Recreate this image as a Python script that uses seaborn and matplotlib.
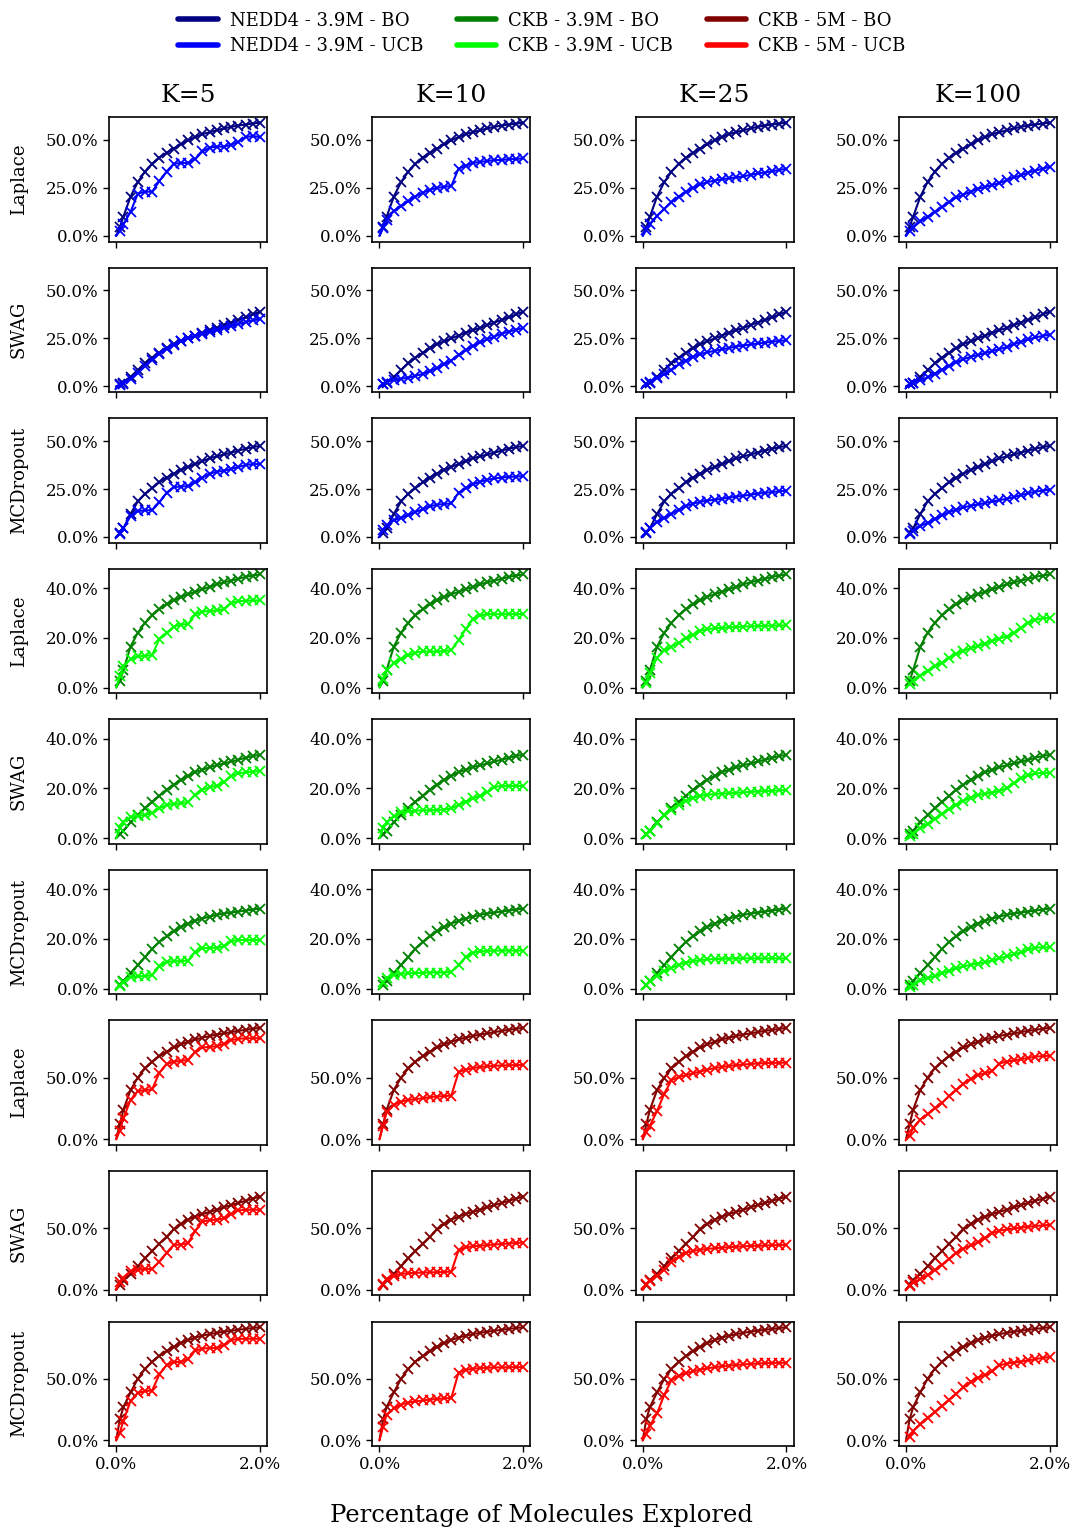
import matplotlib
matplotlib.use("Agg")
import matplotlib.pyplot as plt
import seaborn as sns
from matplotlib.ticker import FuncFormatter
from matplotlib.lines import Line2D

# ---------------- data (percent of molecules explored / percent found) -------------
x_explored = [0.0, 0.05, 0.1, 0.2, 0.3, 0.4, 0.5, 0.6, 0.7, 0.8, 0.9, 1.0,
              1.1, 1.2, 1.3, 1.4, 1.5, 1.6, 1.7, 1.8, 1.9, 2.0]
k_values = [5, 10, 25, 100]
methods = ["Laplace", "SWAG", "MCDropout"]
targets = ["NEDD4 - 3.9M", "CKB - 3.9M", "CKB - 5M"]

# BO (same in every K column)
bo_nedd4_laplace = [0, 4.5, 10, 20.5, 28, 33.5, 37.5, 40.8, 43.3, 45.5, 47.7, 49.8, 51.5, 53, 54, 55, 56, 56.8, 57.5, 58, 58.5, 59]
bo_nedd4_swag = [0, 1, 2, 5, 8.5, 12, 15, 17.5, 20, 22, 23.5, 25, 26.5, 28, 29.3, 30.5, 32, 33.3, 34.7, 36, 37.5, 39]
bo_nedd4_mcd = [0, 2, 4.5, 12, 18.5, 22.5, 25.5, 28.5, 31, 33, 35, 36.5, 38, 39.5, 41, 42, 43, 44, 45, 46, 46.8, 47.5]
bo_ckb39_laplace = [0, 2.5, 7, 16.5, 22, 26, 29, 31.5, 33.5, 35, 36.5, 37.5, 38.5, 39.5, 40.5, 41.5, 42.3, 43, 43.7, 44.5, 45, 45.5]
bo_ckb39_swag = [0, 1.5, 3, 6.3, 9.3, 12, 14.6, 17, 19.5, 21.5, 23.5, 25, 26.5, 27.5, 28.5, 29.3, 30, 30.8, 31.5, 32.3, 33, 33.5]
bo_ckb39_mcd = [0, 1.5, 3.1, 6.3, 9.5, 12.6, 16, 18.8, 21, 23, 24.8, 26.2, 27.3, 28.2, 29, 29.7, 30.2, 30.6, 31, 31.4, 31.8, 32.2]
bo_ckb5_laplace = [0, 12, 24, 40, 50, 57.5, 63, 67.5, 71, 74.5, 77, 79.2, 81, 82.5, 83.8, 85, 86, 87, 88, 88.8, 89.6, 90.5]
bo_ckb5_swag = [0, 4, 8, 13, 19, 25.5, 31.5, 37.5, 43, 49, 53.5, 57, 59.5, 61.5, 63.3, 65, 67, 68.8, 70.5, 72.3, 74, 75.7]
bo_ckb5_mcd = [0, 17, 27, 39, 50, 58, 64, 68.5, 72.5, 76, 79, 81.5, 83.5, 85, 86.3, 87.3, 88.2, 89, 89.8, 90.5, 91.2, 91.9]

# UCB, one list per K (5, 10, 25, 100)
ucb_nedd4_laplace = [
    [0, 2.5, 6, 12.5, 22, 23, 23, 28.5, 33.5, 37.5, 38, 38, 40, 44, 46, 46.5, 46.5, 47.5, 49, 51.5, 52, 51.5],
    [0, 4, 8.5, 13, 15.5, 18, 20.5, 22.5, 24, 25, 25.5, 26, 35, 36.5, 38, 38.5, 39, 39.5, 39.5, 40, 40, 40.5],
    [0, 3, 6, 10.5, 14, 17.5, 20.5, 23, 25, 26.8, 28, 28.8, 29.5, 30, 30.5, 31, 31.8, 32.5, 33, 33.7, 34.3, 35],
    [0, 2.5, 4.5, 7.5, 10, 12.5, 15, 17.5, 20, 21.5, 23, 24.5, 25.5, 26.5, 27.5, 29, 30.5, 31.5, 33, 34, 35, 36],
]
ucb_nedd4_swag = [
    [0, 0.5, 1.5, 4, 7, 10.5, 14, 17, 19.5, 21.5, 23.5, 25, 26.5, 27.5, 28.5, 29.5, 30.5, 31.5, 32.5, 33.5, 34.5, 35],
    [0, 1.5, 2.5, 3.5, 4, 4.5, 5.5, 6.5, 8, 9.5, 11.5, 13.5, 16.5, 19, 21, 23, 24.5, 26, 27.5, 28.5, 29.5, 30.5],
    [0, 1.2, 2.3, 4.5, 6.3, 8.5, 11.5, 13.5, 15.5, 16.8, 17.8, 18.5, 19.3, 20, 20.8, 21.3, 21.9, 22.4, 22.8, 23.3, 23.7, 24],
    [0, 1, 1.8, 3.2, 4.7, 6.7, 8.7, 10.8, 12.6, 14.2, 15.4, 16.4, 17.4, 18.4, 19.4, 20.5, 22, 23.3, 24.5, 25.5, 26.3, 27],
]
ucb_nedd4_mcd = [
    [0, 1.5, 4.5, 11, 13.5, 13.9, 14, 18, 23, 26, 26.3, 26.5, 28.5, 31, 33, 34, 34.5, 35.5, 36.5, 37.5, 38, 38],
    [0, 3.5, 6, 8.7, 10, 11.5, 13, 14.5, 16, 16.8, 17.2, 17.5, 23, 25.5, 27.5, 28.8, 29.8, 30.5, 31, 31.3, 31.5, 31.7],
    [0, 2.8, 4.7, 7.8, 10, 12, 14.2, 16, 17.4, 18.3, 19, 19.4, 19.9, 20.5, 21, 21.5, 22, 22.6, 23, 23.4, 23.8, 24.2],
    [0, 1.3, 3, 5.8, 7.4, 9.3, 11.3, 12.9, 14.3, 15.4, 16.3, 17, 17.7, 18.5, 19.2, 19.9, 20.8, 21.8, 22.8, 23.6, 24.2, 24.6],
]
ucb_ckb39_laplace = [
    [0, 4.5, 8.5, 11.5, 12.5, 12.8, 13, 19.5, 22, 24.5, 25.3, 25.5, 29.5, 30.5, 30.8, 31, 31.5, 34, 34.7, 34.9, 35, 35],
    [0, 3.5, 7, 10, 11.5, 13, 14, 14.5, 14.5, 14.5, 14.7, 15, 19, 23.5, 27.5, 29, 29.5, 29.5, 29.5, 29.5, 29.5, 29.5],
    [0, 2, 6, 12, 15, 16.5, 18, 19.8, 21.3, 22.8, 23.5, 23.8, 24, 24.2, 24.3, 24.5, 24.6, 24.7, 24.8, 24.9, 25, 25],
    [0, 1.5, 2.8, 4.8, 6.8, 8.5, 10, 12, 13.6, 14.8, 15.8, 16.7, 17.7, 18.8, 19.7, 20.5, 22, 24, 26, 27.3, 27.8, 28],
]
ucb_ckb39_swag = [
    [0, 4, 6.5, 8.5, 9, 9.3, 10, 12, 13.3, 13.7, 14, 14.5, 17.5, 19.5, 20.5, 21, 22.5, 25, 26, 26.5, 26.7, 27],
    [0, 4, 6.5, 8.7, 10.3, 10.8, 11, 11.2, 11.2, 11.3, 11.5, 12, 13.3, 14.7, 16, 17, 18.5, 20.5, 21, 21, 21, 21],
    [0, 1.5, 2.8, 6, 9.3, 11.5, 13.3, 15, 16.2, 17, 17.4, 17.7, 17.9, 18, 18.2, 18.4, 18.6, 18.7, 18.9, 19, 19.2, 19.3],
    [0, 0.8, 1.8, 4, 5.8, 7.8, 9.8, 11.6, 13.5, 15, 16.3, 17.3, 17.8, 18.3, 19, 20, 22, 24, 25.2, 26, 26.2, 26.3],
]
ucb_ckb39_mcd = [
    [0, 1.2, 2.8, 4.7, 5, 5.1, 5.5, 9, 10.8, 11, 11.1, 11.3, 14.8, 16.2, 16.4, 16.5, 17, 19.2, 19.5, 19.6, 19.6, 19.6],
    [0, 2.5, 4.5, 5.6, 6, 6.2, 6.3, 6.4, 6.5, 6.5, 6.5, 6.8, 9.5, 12.8, 14.5, 15, 15.2, 15.3, 15.3, 15.3, 15.3, 15.3],
    [0, 1.5, 3, 5.3, 7, 8.4, 9.6, 10.5, 11.1, 11.5, 11.8, 11.9, 12, 12.1, 12.1, 12.2, 12.2, 12.2, 12.2, 12.2, 12.2, 12.2],
    [0, 0.8, 1.6, 3.3, 4.3, 5.1, 6.2, 7.3, 8.2, 9, 9.6, 10.1, 10.6, 11.4, 12.2, 13, 13.8, 14.6, 15.8, 16.5, 16.6, 16.6],
]
ucb_ckb5_laplace = [
    [0, 7, 17, 32, 39, 40, 40.5, 54, 61, 63, 63.5, 64.5, 71, 74.5, 75, 75.5, 77.5, 80.5, 81.5, 82, 82, 82],
    [0, 11, 22, 28, 30.5, 31.9, 32.6, 33.3, 34.2, 34.7, 35, 35.5, 54.5, 56.5, 57.8, 58.7, 59.2, 59.6, 59.9, 60.1, 60.2, 60.3],
    [0, 6, 11, 23, 37, 48, 50.5, 52, 53.5, 55, 56.5, 57.8, 58.7, 59.5, 60.2, 60.7, 61.1, 61.5, 61.8, 62, 62.1, 62.2],
    [0, 3, 9, 16, 20.5, 25, 29.5, 35, 40, 45, 49, 52, 53.5, 55.5, 61.5, 63, 64, 65, 66, 67, 67.5, 67.8],
]
ucb_ckb5_swag = [
    [0, 6, 10, 15, 16.5, 16.8, 17, 23, 30, 36.5, 36.7, 38, 48, 55.5, 56.5, 57, 58, 61.5, 64.5, 65, 65, 65],
    [0, 5, 9, 11.5, 13, 13.5, 13.8, 14, 14.2, 14.3, 14.5, 14.8, 32, 34.5, 35.3, 35.8, 36.3, 36.8, 37.2, 37.6, 38, 38.4],
    [0, 4.5, 7.5, 11.5, 16.5, 22.5, 27, 30, 31.6, 32.5, 33.2, 33.8, 34.2, 34.6, 35, 35.3, 35.6, 35.8, 36, 36.2, 36.4, 36.5],
    [0, 3.5, 6, 8.5, 12, 16, 20.5, 25, 30, 33.5, 36, 38.5, 42, 46, 48, 49, 49.8, 50.5, 51.2, 51.8, 52.3, 52.7],
]
ucb_ckb5_mcd = [
    [0, 6, 16, 32, 38.5, 40, 40.5, 53.5, 61, 63.5, 63.8, 66, 73, 74.5, 75, 75, 77.5, 81.5, 82.4, 82.5, 82.5, 82.5],
    [0, 11, 21, 26, 29, 30.7, 31.7, 32.4, 33.1, 33.6, 34.1, 34.5, 55, 57.2, 58.2, 58.7, 59, 59.2, 59.3, 59.4, 59.5, 59.5],
    [0, 5.5, 12, 22, 37, 49, 52.5, 54.5, 56, 57.5, 58.6, 59.4, 60.2, 60.7, 61.2, 61.7, 62.1, 62.5, 62.7, 62.9, 63, 63],
    [0, 3, 7.5, 13, 18.5, 23, 28, 33, 38, 43, 47.5, 51, 53, 56, 61, 62.3, 63.2, 64, 65, 66, 67, 67.6],
]

row_bo = [bo_nedd4_laplace, bo_nedd4_swag, bo_nedd4_mcd,
          bo_ckb39_laplace, bo_ckb39_swag, bo_ckb39_mcd,
          bo_ckb5_laplace, bo_ckb5_swag, bo_ckb5_mcd]
row_ucb = [ucb_nedd4_laplace, ucb_nedd4_swag, ucb_nedd4_mcd,
           ucb_ckb39_laplace, ucb_ckb39_swag, ucb_ckb39_mcd,
           ucb_ckb5_laplace, ucb_ckb5_swag, ucb_ckb5_mcd]
y_ticks_by_target = [[0, 25, 50], [0, 20, 40], [0, 50]]
bo_colors = ["#000080", "#008000", "#800000"]
ucb_colors = ["#0000FF", "#00FF00", "#FF0000"]

# ---------------- plotting ----------------
sns.set_theme(style="ticks")
plt.rcParams["font.family"] = ["DejaVu Serif"]
plt.rcParams["axes.edgecolor"] = "black"
plt.rcParams["xtick.color"] = "black"
plt.rcParams["ytick.color"] = "black"
plt.rcParams["text.color"] = "black"
plt.rcParams["axes.labelcolor"] = "black"

fig, axes = plt.subplots(9, 4, figsize=(10.73, 15.27), dpi=100)
fig.subplots_adjust(left=0.1016, right=0.985, top=0.9234, bottom=0.053,
                    wspace=0.665, hspace=0.209)

pct_fmt = FuncFormatter(lambda v, p: f"{v:.1f}%")
mark_idx = list(range(1, len(x_explored)))

for r in range(9):
    t = r // 3
    # shared y-range within each target group (3 rows)
    group_max = max(max(row_bo[g]) for g in range(3 * t, 3 * t + 3))
    group_max = max(group_max, max(max(v) for g in range(3 * t, 3 * t + 3) for v in row_ucb[g]))
    for c in range(4):
        ax = axes[r, c]
        for vals, col in ((row_bo[r], bo_colors[t]), (row_ucb[r][c], ucb_colors[t])):
            sns.lineplot(x=x_explored, y=vals, ax=ax, color=col,
                         linewidth=1.5, marker="x", markersize=7,
                         markeredgewidth=1.3, markeredgecolor=col,
                         markerfacecolor=col, markevery=mark_idx)
        ax.set_ylim(-0.05 * group_max, 1.05 * group_max)
        ax.set_xlim(-0.1, 2.1)
        ax.set_xticks([0.0, 2.0])
        ax.set_yticks(y_ticks_by_target[t])
        ax.xaxis.set_major_formatter(pct_fmt)
        ax.yaxis.set_major_formatter(pct_fmt)
        ax.tick_params(axis="both", labelsize=12, length=4, width=1)
        for s in ax.spines.values():
            s.set_linewidth(1.2)
            s.set_color("black")
        if r < 8:
            ax.tick_params(axis="x", labelbottom=False)
        ax.set_xlabel("")
        if c == 0:
            ax.set_ylabel(methods[r % 3], fontsize=13, labelpad=13)
        else:
            ax.set_ylabel("")
        if r == 0:
            ax.set_title(f"K={k_values[c]}", fontsize=18, pad=11)

fig.text(0.505, 0.0, "Percentage of Molecules Explored", ha="center",
         va="bottom", fontsize=17.5)

handles, labels = [], []
for t in range(3):
    handles.append(Line2D([0], [0], color=bo_colors[t], linewidth=4))
    labels.append(f"{targets[t]} - BO")
    handles.append(Line2D([0], [0], color=ucb_colors[t], linewidth=4))
    labels.append(f"{targets[t]} - UCB")
fig.legend(handles, labels, loc="upper center", bbox_to_anchor=(0.505, 1.003),
           ncol=3, frameon=False, fontsize=13, handlelength=2.2,
           handletextpad=0.67, columnspacing=1.85, labelspacing=0.4)

fig.savefig("out.png", dpi=100)
